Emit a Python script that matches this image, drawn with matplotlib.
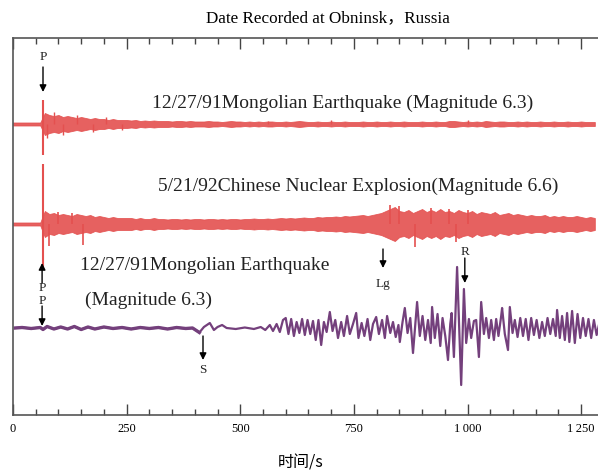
import numpy as np
import matplotlib
matplotlib.use("Agg")
from matplotlib import pyplot as plt
from matplotlib.ticker import MultipleLocator

serif = ['Liberation Serif', 'DejaVu Serif', 'Noto Sans CJK SC']
plt.rcParams['font.family'] = serif

# sample times (s) for the envelopes, every 10 s
env_t = np.arange(0, 1281, 10)

# trace 1: Mongolian earthquake (half-width of the red band)
quake_env = [1.5, 1.5, 1.5, 1.5, 1.5, 1.5, 1.5,
             11, 9, 8, 9, 7, 8, 7, 6, 7,
             6, 5, 6, 5, 5, 4, 5, 4, 4, 4,
             3.5, 4, 3, 3.5, 3, 3.5, 3, 3, 3, 2.5, 3, 3, 2.5, 3, 2.5,
             2.5, 2.5, 3, 2.5, 2.5, 2, 2.5, 3, 2.5, 2.5, 2, 2.5, 2, 2.5, 2, 2.5, 2.5, 2, 2, 2.5,
             2, 2.5, 3, 2.5, 2, 2, 2.5, 2, 2, 2.5, 2, 2, 2.5, 2, 2, 2, 2.5, 2, 2, 2.5,
             2, 2, 2.5, 2, 2, 2.5, 2, 2, 2, 2.5, 2, 2, 2.5, 2, 2, 3, 3, 2.5, 2, 2.5,
             2, 2.5, 2, 3, 2.5, 2, 2.5, 2.5, 2, 2, 2.5, 2, 2.5, 2, 2, 2.5, 2, 2, 2.5, 2,
             2, 2.5, 2, 2, 2.5, 2, 2, 2]
quake_peak_t = [75, 90, 110, 140, 175, 205, 240, 560, 700, 1000]
quake_peak_a = [-14, 12, -11, 9, -8, 7, -6, 3.5, 4, 4]

# trace 2: Chinese nuclear explosion
blast_env = [1.5, 1.5, 1.5, 1.5, 1.5, 1.5, 1.5,
             13, 10, 11, 9, 10, 9, 8, 10, 9,
             8, 9, 7, 8, 7, 6, 7, 6, 6, 6,
             6, 5, 6, 5, 5, 6, 5, 5, 4.5, 5, 5, 4.5, 5, 4.5, 5,
             5, 4.5, 5, 5, 4.5, 5, 4.5, 5, 5, 4.5, 5, 5, 5.5, 5, 5, 5.5, 5, 5.5, 6, 5.5,
             6, 5.5, 6, 6.5, 6, 6, 7, 6.5, 7, 7, 7.5, 7, 8, 7.5, 8, 8.5, 9, 8, 9, 10,
             11, 13, 15, 17, 13, 12, 14, 11, 13, 15, 12, 14, 12, 15, 12, 13, 11, 14, 12, 11,
             13, 10, 12, 11, 10, 12, 9, 10, 11, 9, 10, 9, 8, 9, 8, 8, 9, 7, 8, 7,
             8, 7, 7, 8, 7, 6, 7, 6]
blast_peak_t = [79, 100, 130, 154, 830, 850, 885, 920, 960, 975, 1000]
blast_peak_a = [-22, 12, 11, -21, 19, 18, -23, 16, 15, -18, 14]

# P-wave spikes (up, down)
quake_p = (24, -31)
blast_p = (60, -46)
p_time = 66

# trace 3: Mongolian earthquake, long-period record
long_t = [5, 20, 40, 60, 66, 75, 90, 105, 120, 135, 150, 165, 180, 200, 220, 240, 260,
          280, 300, 320, 340, 360, 380, 395, 410, 420, 433, 442, 450, 460, 470, 490,
          510, 530, 545, 555, 565, 572, 580, 587, 594,
          600, 606, 612, 618, 624, 630, 636, 642, 648, 654,
          660, 666, 672, 678, 684, 690, 697, 703, 709,
          715, 722, 728, 735, 741, 748, 755, 760, 767,
          773, 780, 786, 792, 799, 805, 812, 818, 823, 830, 836, 842, 848,
          851, 857, 862, 868, 874, 880, 889, 895, 901, 907, 913, 919,
          922, 928, 934, 940, 945, 951, 957, 962, 965, 970, 977, 986, 992,
          997, 1003, 1008, 1014, 1019, 1025, 1030, 1036, 1041, 1047, 1052, 1058,
          1063, 1068, 1074, 1076, 1082, 1089, 1093, 1099, 1104, 1110, 1116, 1122,
          1128, 1134, 1140, 1146, 1152, 1158, 1164, 1170, 1176, 1182, 1188, 1194,
          1197, 1203, 1208, 1214, 1219, 1224, 1230, 1236, 1242, 1248, 1254, 1260,
          1266, 1272, 1278, 1284, 1290]
long_a = [0, 0.5, -0.5, 0.5, -1.5, 1.5, -1, 1, -1, 1.5, -1.5, 1, -1, 1, -0.5, 0.5, -1,
          0.5, -0.5, 0.5, -1, 0.5, -0.5, 0, -4.5, 1, 5, -2, 1, 3, 0, -1,
          0.5, -1, 1, -2, 3, -3, 4, -4, 8,
          10, -6, 9, -8, 6, -5, 9, -7, 8, -6,
          7, -12, 8, -17, 6, -4, 16, -3, 8,
          -10, 6, -8, 12, -6, 4, 15, -10, 5,
          -8, 9, -12, 4, 11, -6, 8, -10, 12, -5, 6, -9, 3,
          -14, 6, 20, -5, 10, -25, 26, -8, 12, -12, 8, -15,
          21, -10, 14, -18, 10, -8, -32, 4, 15, -29, 61, -57, 39,
          -15, 9, -10, 7, 8, -29, 26, -6, 10, -10, 8, -12,
          9, -8, 12, 20, -6, -22, 21, -5, 8, -9, 10, -8,
          9, -12, 10, -7, 8, -10, 6, -8, 10, -6, 9, -8,
          18, -10, 12, -12, 15, -14, 17, -15, 14, -10, 10, -8,
          9, -10, 8, -7, 5]

base = [291, 191, 87]
red = '#e4504f'
purple = '#74407c'

fig = plt.figure(figsize=(5.98, 4.74), dpi=100)
ax = fig.add_axes([13 / 598, 59 / 474, 1 - 13 / 598, 377 / 474])

# red bands
ax.fill_between(env_t[:len(quake_env)], base[0] - np.array(quake_env), base[0] + np.array(quake_env),
                color=red, lw=0.6, edgecolor=red, alpha=0.9)
ax.fill_between(env_t[:len(blast_env)], base[1] - np.array(blast_env), base[1] + np.array(blast_env),
                color=red, lw=0.6, edgecolor=red, alpha=0.9)
ax.vlines(quake_peak_t, base[0], base[0] + np.array(quake_peak_a), color=red, lw=1.0)
ax.vlines(blast_peak_t, base[1], base[1] + np.array(blast_peak_a), color=red, lw=1.2)
ax.vlines(p_time, base[0] + quake_p[1], base[0] + quake_p[0], color=red, lw=1.5)
ax.vlines(p_time + 1, base[1] + blast_p[1], base[1] + blast_p[0], color=red, lw=1.5)

# purple trace
ax.plot(long_t, base[2] + np.array(long_a), color=purple, lw=1.6)
ax.plot(long_t[:25], base[2] + np.array(long_a[:25]), color=purple, lw=2.4)

arrow = dict(arrowstyle='-|>', color='black', lw=1.0, mutation_scale=10, shrinkA=0, shrinkB=0)
def down_arrow(t, y0, y1):
    ax.annotate('', xy=(t, y1), xytext=(t, y0), arrowprops=arrow)

# annotations (y in plot units)
mark = dict(ha='center', va='center', fontsize=9.5, color='#222222')
ax.text(p_time, 358, 'P', **mark)
down_arrow(p_time, 348, 323)
down_arrow(64, 132, 152)
ax.text(64, 127, 'P', **mark)
ax.text(64, 114, 'P', **mark)
down_arrow(64, 109, 89)
down_arrow(814, 166, 147)
ax.text(814, 131, 'Lg', **mark)
ax.text(994, 163, 'R', **mark)
down_arrow(994, 157, 132)
down_arrow(418, 79, 55)
ax.text(418, 45, 'S', **mark)

lab = dict(ha='left', va='center', fontsize=14, color='#222222')
ax.text(306, 312, '12/27/91Mongolian Earthquake (Magnitude 6.3)', **lab)
ax.text(319, 229, '5/21/92Chinese Nuclear Explosion(Magnitude 6.6)', **lab)
ax.text(147, 150, '12/27/91Mongolian Earthquake', **lab)
ax.text(158, 115, '(Magnitude 6.3)', **lab)

ax.set_xlim(0, 1287)
ax.set_ylim(0, 377)
ax.xaxis.set_major_locator(MultipleLocator(250))
ax.xaxis.set_minor_locator(MultipleLocator(50))
ax.set_xticks([0, 250, 500, 750, 1000, 1250])
ax.set_xticklabels(['0', '250', '500', '750', '1\u2009000', '1\u2009250'])
ax.set_yticks([])
ax.tick_params(axis='x', which='both', direction='in', top=True, color='#444444', labelsize=9, pad=6)
ax.tick_params(axis='x', which='major', length=8, width=1)
ax.tick_params(axis='x', which='minor', length=4, width=1)
for s in ['left', 'top', 'bottom']:
    ax.spines[s].set_color('#555555')
    ax.spines[s].set_linewidth(1.2)
ax.spines['right'].set_visible(False)

fig.text(0.548, 0.962, 'Date Recorded at Obninsk\uff0cRussia', ha='center', va='center', fontsize=12.3)
fig.text(0.502, 0.023, '时间/s', ha='center', va='center', fontsize=11.5,
         family=['Noto Sans CJK SC', 'DejaVu Sans'])

fig.savefig('out.png', dpi=100)
